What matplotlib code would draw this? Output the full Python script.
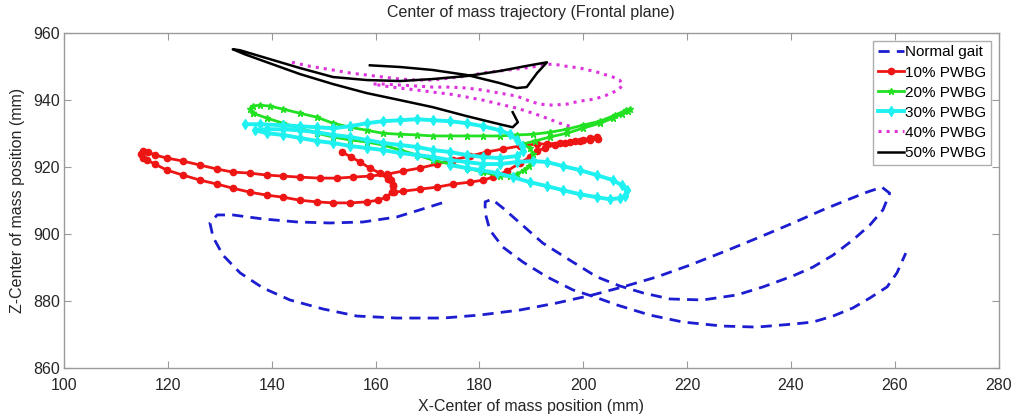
import matplotlib
matplotlib.use("Agg")
import numpy as np
import matplotlib.pyplot as plt

plt.rcParams['font.family'] = ['Liberation Sans', 'DejaVu Sans']

# Normal gait
normal_x = [172.8, 168.5, 164.1, 157.6, 151.2, 144.9, 138.3, 132.5, 129.5, 128.1,
            128.7, 130.6, 133.9, 138.3, 143.5, 149.9, 156.4, 164.1, 173.0, 180.1,
            187.8, 194.9, 201.8, 207.6, 214.2, 220.5, 226.9, 234.0, 240.4, 246.1,
            250.7, 254.6, 257.5, 259.0, 257.7, 255.2, 251.9, 248.1, 244.2, 240.4,
            234.6, 229.6, 223.0, 216.7, 211.5, 207.0, 202.6, 197.4, 192.2, 187.8,
            184.5, 182.4, 181.1, 181.1, 182.0, 184.5, 188.4, 193.0, 198.0, 202.2,
            206.5, 212.8, 219.2, 226.9, 233.4, 240.4, 244.2, 248.1, 251.9, 255.2,
            258.5, 260.4, 262.1]
normal_z = [909.3, 907.2, 905.1, 903.6, 903.3, 903.6, 904.5, 905.7, 905.7, 903.3,
            899.1, 893.7, 888.4, 883.9, 880.3, 877.6, 875.5, 874.9, 874.9, 875.8,
            877.3, 879.4, 881.8, 884.2, 887.2, 890.7, 894.6, 899.1, 903.3, 907.2,
            910.1, 912.5, 914.0, 912.2, 907.2, 902.7, 898.2, 893.7, 890.1, 887.5,
            884.2, 881.8, 880.3, 880.6, 882.4, 884.5, 887.2, 892.2, 897.3, 903.3,
            907.8, 910.4, 909.6, 906.3, 901.2, 896.1, 891.6, 887.2, 883.3, 881.2,
            878.8, 875.8, 873.7, 872.5, 872.2, 873.1, 873.7, 875.5, 877.9, 880.9,
            884.2, 888.4, 894.3]

# 10% PWBG
p10_x = [153.5, 155.3, 157.0, 158.9, 160.8, 162.4, 163.3, 163.5, 165.3, 168.5,
         171.8, 174.9, 178.2, 180.7, 182.6, 185.3, 187.8, 189.7, 191.1, 192.6,
         194.5, 196.5, 198.4, 199.9, 201.3, 202.6, 202.8, 201.3, 199.3, 197.4,
         195.5, 193.0, 191.1, 187.8, 184.5, 181.4, 178.2, 174.9, 171.8, 168.5,
         165.3, 162.2, 158.9, 155.6, 152.6, 149.3, 145.4, 142.2, 139.1, 135.8,
         132.5, 129.5, 126.2, 122.9, 119.8, 117.5, 116.2, 115.2, 114.8, 115.2,
         116.0, 117.5, 119.8, 122.9, 126.2, 129.5, 132.5, 135.8, 139.1, 142.2,
         145.4, 148.7, 151.8, 155.1, 158.3, 160.5, 162.0, 163.2, 163.3, 163.0,
         162.4]
p10_z = [924.5, 923.0, 921.5, 919.7, 918.2, 916.4, 914.6, 912.5, 912.8, 913.4,
         914.0, 914.9, 915.5, 916.1, 917.0, 918.8, 921.2, 923.0, 924.8, 925.7,
         926.6, 927.2, 927.8, 928.1, 928.7, 929.0, 928.4, 928.1, 927.8, 927.5,
         927.2, 926.9, 926.9, 926.3, 925.4, 924.5, 923.3, 922.1, 920.9, 919.7,
         918.8, 917.9, 917.3, 917.0, 916.7, 916.7, 917.0, 917.3, 917.6, 918.2,
         918.5, 919.4, 920.6, 921.8, 922.7, 923.6, 924.5, 924.8, 923.9, 922.7,
         922.1, 920.9, 919.1, 917.6, 916.1, 914.9, 913.7, 912.5, 911.6, 911.0,
         910.1, 909.6, 909.3, 909.3, 909.6, 910.1, 911.0, 912.5, 914.3, 916.1,
         917.3]

# 20% PWBG
p20_x = [136.4, 139.1, 142.2, 145.4, 148.7, 151.8, 155.1, 158.3, 161.4, 164.7,
         168.0, 171.0, 174.3, 177.6, 180.7, 183.9, 185.9, 187.2, 188.6, 189.5,
         190.3, 190.3, 189.7, 188.4, 190.7, 193.6, 196.8, 199.9, 203.2, 205.7,
         207.4, 208.6, 209.0, 208.2, 206.1, 203.2, 199.9, 196.8, 193.6, 190.3,
         187.2, 183.9, 180.7, 177.6, 174.3, 171.0, 168.0, 164.7, 161.4, 158.3,
         155.1, 151.8, 148.7, 145.4, 142.2, 139.7, 137.7, 136.4, 135.8, 136.4]
p20_z = [936.1, 934.6, 933.1, 931.6, 930.1, 929.0, 928.1, 927.5, 926.6, 925.1,
         923.6, 922.1, 920.9, 919.7, 918.5, 917.3, 917.3, 917.9, 919.1, 920.3,
         922.1, 923.9, 925.7, 926.9, 927.8, 929.0, 930.1, 931.6, 933.1, 934.6,
         935.8, 936.7, 937.3, 937.0, 935.5, 933.7, 932.5, 931.3, 930.4, 929.8,
         929.6, 929.3, 929.3, 929.3, 929.3, 929.3, 929.6, 929.8, 930.1, 931.0,
         931.9, 933.1, 934.9, 936.1, 937.3, 938.2, 938.5, 938.2, 937.3, 936.1]

# 30% PWBG
p30_x = [134.8, 137.7, 142.2, 145.4, 148.7, 151.8, 155.1, 158.3, 161.4, 164.7,
         168.0, 171.0, 174.3, 177.6, 180.7, 183.9, 185.9, 187.2, 188.2, 188.4,
         187.2, 183.9, 180.7, 177.6, 174.3, 171.0, 168.0, 164.7, 161.4, 158.3,
         155.1, 151.8, 148.7, 145.4, 142.2, 139.1, 136.8, 139.1, 142.2, 145.4,
         148.7, 151.8, 155.1, 158.3, 161.4, 164.7, 168.0, 171.0, 174.3, 177.6,
         180.7, 183.9, 187.2, 190.3, 193.0, 196.1, 199.3, 202.6, 205.7, 207.4,
         208.4, 208.0, 207.0, 205.1, 202.6, 199.3, 196.1, 193.0, 189.7, 186.4,
         183.4, 180.1, 177.6, 174.3]
p30_z = [932.8, 932.8, 932.5, 932.2, 931.9, 931.6, 932.2, 933.1, 933.7, 934.0,
         934.3, 934.0, 933.7, 933.1, 932.2, 931.0, 929.8, 928.1, 926.3, 924.8,
         923.3, 922.7, 923.0, 923.6, 924.5, 925.1, 926.0, 926.6, 927.2, 928.1,
         929.0, 929.6, 930.4, 931.0, 931.3, 931.3, 931.0, 930.1, 929.6, 928.7,
         927.8, 927.2, 926.3, 925.7, 925.1, 924.2, 923.6, 923.0, 922.1, 921.5,
         920.9, 920.9, 921.5, 921.8, 921.5, 920.3, 919.1, 917.6, 916.1, 914.6,
         913.1, 911.3, 910.7, 910.4, 911.0, 911.9, 913.1, 914.3, 915.5, 917.0,
         918.2, 919.1, 919.7, 920.6]

# 40% PWBG
p40_x = [143.9, 147.4, 151.8, 155.1, 158.3, 161.4, 164.7, 168.0, 171.0, 174.3,
         177.6, 180.7, 183.9, 187.2, 190.3, 192.2, 194.5, 196.8, 199.3, 202.6,
         205.7, 207.0, 207.6, 206.7, 204.5, 202.2, 199.3, 196.8, 194.1, 191.6,
         189.7, 187.2, 183.9, 180.7, 177.6, 174.3, 171.0, 168.0, 164.7, 161.8,
         159.5, 161.8, 164.7, 168.0, 171.0, 174.3, 177.6, 180.7, 183.9, 187.2,
         190.3, 193.0, 195.5, 197.4]
p40_z = [951.3, 950.1, 949.0, 948.1, 947.5, 946.9, 946.3, 946.0, 946.0, 946.6,
         947.2, 948.1, 948.7, 949.3, 949.9, 950.7, 950.7, 950.1, 949.6, 948.4,
         946.9, 946.0, 944.5, 943.0, 941.5, 940.3, 939.7, 938.8, 938.5, 938.8,
         939.7, 941.2, 942.1, 943.0, 943.6, 943.9, 943.9, 944.2, 944.5, 944.8,
         944.8, 944.2, 943.6, 943.0, 942.4, 941.8, 940.9, 940.0, 938.8, 937.6,
         936.1, 934.6, 933.1, 932.2]

# 50% PWBG
p50_x = [158.9, 164.7, 171.0, 177.6, 183.9, 187.2, 189.1, 191.1, 193.0, 189.7,
         183.9, 177.6, 171.0, 164.7, 158.3, 151.8, 145.4, 139.1, 133.9, 132.5,
         134.8, 139.1, 145.4, 151.8, 158.3, 164.7, 171.0, 177.6, 183.9, 186.4,
         187.4, 186.4]
p50_z = [950.4, 949.9, 949.0, 947.5, 945.1, 943.6, 943.9, 948.1, 951.3, 950.4,
         948.7, 947.2, 946.3, 945.7, 946.0, 946.9, 949.6, 952.5, 954.9, 955.2,
         953.7, 951.3, 947.8, 944.8, 942.1, 940.0, 937.9, 935.2, 932.8, 931.9,
         933.4, 936.4]

fig = plt.figure(figsize=(10.16, 4.2), dpi=100)
ax = fig.add_axes([0.063, 0.124, 0.920, 0.797])

ax.plot(normal_x, normal_z, '--', color='#1c1cd0', lw=2.0, dashes=(4.0, 2.6),
        label='Normal gait')
ax.plot(p10_x, p10_z, '-o', color='#ee1515', lw=2.0, ms=4.5, mec='#ee1515',
        label='10% PWBG')
ax.plot(p20_x, p20_z, '-*', color='#22e022', lw=2.0, ms=5, mec='#22e022',
        label='20% PWBG')
ax.plot(p30_x, p30_z, '-d', color='#1ff0f0', lw=2.8, ms=5.5, mec='#1ff0f0',
        label='30% PWBG')
ax.plot(p40_x, p40_z, ':', color='#dd33dd', lw=2.2, label='40% PWBG')
ax.plot(p50_x, p50_z, '-', color='black', lw=1.8, label='50% PWBG')

ax.set_xlim(100, 280)
ax.set_ylim(860, 960)
ax.set_xticks(np.arange(100, 281, 20))
ax.set_yticks(np.arange(860, 961, 20))

grey = '#9a9a9a'
for s in ax.spines.values():
    s.set_color(grey)
    s.set_linewidth(1.0)
ax.tick_params(direction='in', length=5, color=grey, labelcolor='#262626',
               labelsize=11.5, top=True, right=True)
ax.tick_params(axis='x', pad=7.5)
ax.tick_params(axis='y', pad=3)

ax.set_title('Center of mass trajectory (Frontal plane)', fontsize=11.5,
             color='#262626', pad=12)
ax.set_xlabel('X-Center of mass position (mm)', fontsize=11.5, color='#262626',
              labelpad=4)
ax.set_ylabel('Z-Center of mass position (mm)', fontsize=11.5, color='#262626',
              labelpad=6)

leg = ax.legend(loc='upper right', numpoints=1, fontsize=11, handlelength=1.7,
                handletextpad=0.1, borderpad=0.3, labelspacing=0.4,
                fancybox=False, edgecolor=grey, borderaxespad=0.5)
leg.get_frame().set_linewidth(1.0)

fig.savefig('out.png', dpi=100)
